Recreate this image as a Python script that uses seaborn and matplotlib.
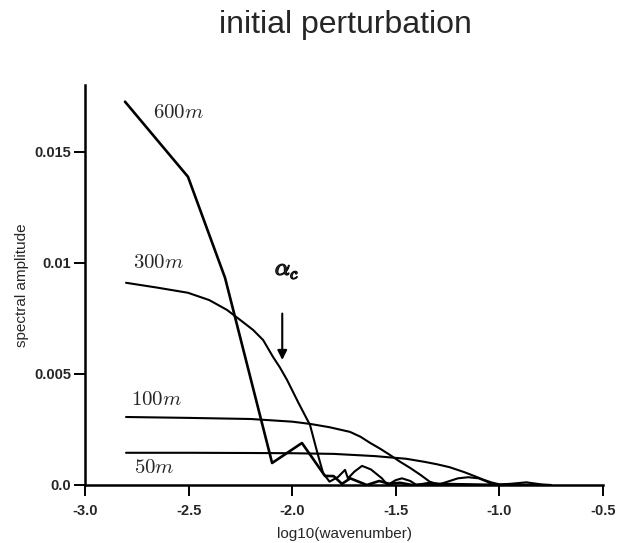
import numpy as np
import pandas as pd
import matplotlib
matplotlib.use("Agg")
import matplotlib.pyplot as plt
import matplotlib.patheffects as pe
import seaborn as sns

# -----------------------------
# data
# -----------------------------
x_600 = [-2.807, -2.503, -2.324, -2.097, -1.953, -1.842, -1.80, -1.76, -1.72, -1.68,
         -1.64, -1.58, -1.53, -1.48, -1.42, -1.30, -1.00, -0.80]
y_600 = [0.01725, 0.01387, 0.00932, 0.00099, 0.00189, 0.00041, 0.00040, 0.00005, 0.00030, 0.00015,
         0.0, 0.00018, 0.00005, 0.00010, 0.0, 0.00005, 0.0, 0.0]

x_300 = [-2.802, -2.65, -2.503, -2.40, -2.315, -2.25, -2.189, -2.14, -2.093, -2.06,
         -2.025, -1.97, -1.914, -1.88, -1.851, -1.82, -1.779, -1.745, -1.731, -1.70,
         -1.663, -1.62, -1.567, -1.54, -1.50, -1.47, -1.43, -1.40, -1.33, -1.27,
         -1.00, -0.80]
y_300 = [0.0091, 0.00888, 0.00865, 0.00832, 0.00788, 0.00742, 0.00698, 0.00652, 0.00577, 0.00530,
         0.00473, 0.0037, 0.0027, 0.00150, 0.00054, 0.00015, 0.00036, 0.00068, 0.0003, 0.0006,
         0.00086, 0.0007, 0.0003, 0.0, 0.00022, 0.0003, 0.00018, 0.0, 0.00012, 0.0,
         0.0, 0.0]

x_100 = [-2.802, -2.5, -2.2, -2.0, -1.914, -1.82, -1.721, -1.67, -1.625, -1.575,
         -1.528, -1.48, -1.431, -1.38, -1.335, -1.30, -1.25, -1.20, -1.15, -1.10,
         -1.06, -1.03, -0.80]
y_100 = [0.00306, 0.00302, 0.00297, 0.00285, 0.00275, 0.0026, 0.00239, 0.00217, 0.0019, 0.00163,
         0.00135, 0.00105, 0.00077, 0.00045, 0.00014, 0.0, 0.00015, 0.00030, 0.00035, 0.00030,
         0.00015, 0.0, 0.0]

x_50 = [-2.802, -2.5, -2.2, -2.0, -1.8, -1.6, -1.45, -1.36, -1.30, -1.24,
        -1.17, -1.12, -1.08, -1.04, -1.0, -0.95, -0.87, -0.80, -0.75]
y_50 = [0.00145, 0.00145, 0.00144, 0.00143, 0.00140, 0.00130, 0.00118, 0.00104, 0.00093, 0.00080,
        0.00058, 0.00040, 0.00025, 0.00012, 0.00003, 0.00005, 0.00012, 0.00003, 0.0]

x_ticks = [-3.0, -2.5, -2.0, -1.5, -1.0, -0.5]
x_ticklabels = ["-3.0", "-2.5", "-2.0", "-1.5", "-1.0", "-0.5"]
y_ticks = [0.0, 0.005, 0.01, 0.015]
y_ticklabels = ["0.0", "0.005", "0.01", "0.015"]

labels = ["600", "300", "100", "50"]
label_x = [-2.551, -2.643, -2.657, -2.667]
label_y = [0.01676, 0.0100, 0.00383, 0.00077]

# -----------------------------
# style
# -----------------------------
sns.set_style("ticks")
plt.rcParams["font.family"] = ["Liberation Sans", "DejaVu Sans"]
plt.rcParams["mathtext.fontset"] = "cm"
plt.rcParams["axes.unicode_minus"] = False

fig = plt.figure(figsize=(6.28, 5.43), dpi=100)
ax = fig.add_axes([85 / 628, 58 / 543, 518 / 628, 400 / 543])

series = [(x_600, y_600, 1.9), (x_300, y_300, 1.5), (x_100, y_100, 1.5), (x_50, y_50, 1.5)]
for xs, ys, lw in series:
    df = pd.DataFrame({"x": xs, "y": ys})
    sns.lineplot(data=df, x="x", y="y", color="black", linewidth=lw,
                 estimator=None, sort=False, ax=ax)

ax.set_xlim(-3.0, -0.5)
ax.set_ylim(0, 0.018)
ax.set_xticks(x_ticks)
ax.set_xticklabels(x_ticklabels, fontweight="bold", fontsize=10.5)
ax.set_yticks(y_ticks)
ax.set_yticklabels(y_ticklabels, fontweight="bold", fontsize=10.5)
ax.tick_params(axis="x", direction="out", length=8, width=1.4, pad=6, color="black")
ax.tick_params(axis="y", direction="out", length=8, width=1.4, pad=2, color="black")
for s in ["top", "right"]:
    ax.spines[s].set_visible(False)
for s in ["left", "bottom"]:
    ax.spines[s].set_linewidth(1.8)
    ax.spines[s].set_color("black")

ax.set_xlabel("log10(wavenumber)", fontsize=11)
ax.set_ylabel("spectral amplitude", fontsize=11)
ax.xaxis.set_label_coords(0.5, -0.105)
ax.yaxis.set_label_coords(-0.108, 0.5)

fig.text(345 / 628, 1 - 25 / 543, "initial perturbation", fontsize=23,
         ha="center", va="center")

# curve labels
for lab, lx, ly in zip(labels, label_x, label_y):
    ax.text(lx, ly, r"$%sm$" % lab, fontsize=15, ha="center", va="center")

ax.text(-2.025, 0.00968, r"$\alpha_c$", fontsize=17, ha="center", va="center",
        path_effects=[pe.withStroke(linewidth=1.0, foreground="black")])
ax.annotate("", xy=(-2.048, 0.0055), xytext=(-2.048, 0.00784),
            arrowprops=dict(arrowstyle="-|>", color="black", lw=1.5, mutation_scale=14))

fig.savefig("out.png", dpi=100)
